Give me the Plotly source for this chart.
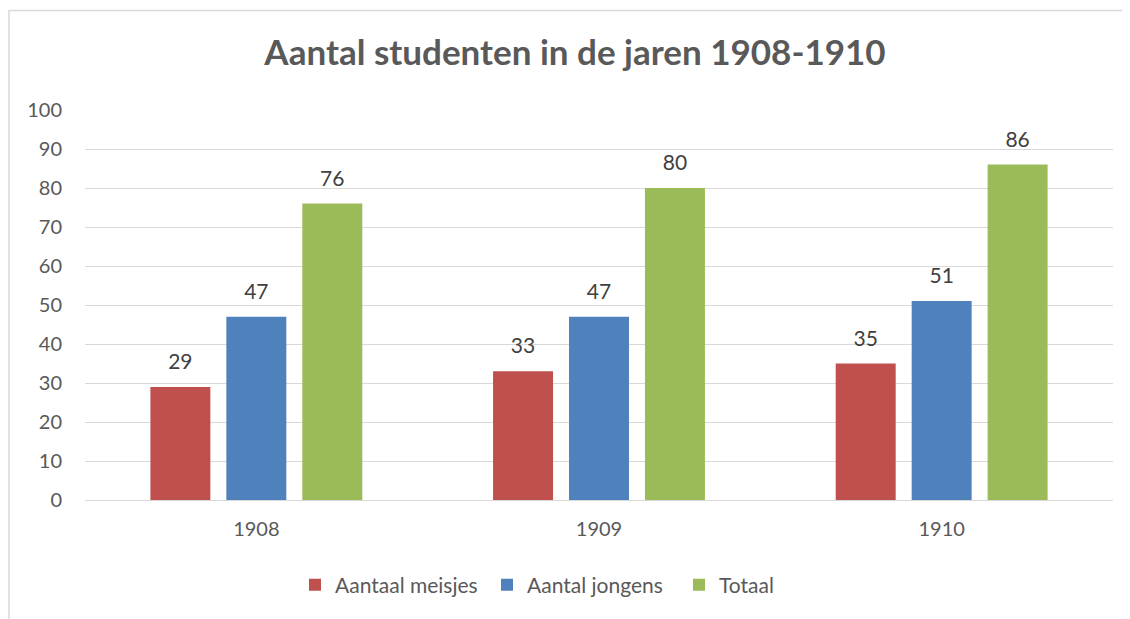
import plotly.graph_objects as go

years = ["1908", "1909", "1910"]
meisjes = [29, 33, 35]
jongens = [47, 47, 51]
totaal = [76, 80, 86]
series_names = ["Aantaal meisjes", "Aantal jongens", "Totaal"]
colors = ["#C0504D", "#4F81BD", "#9BBB59"]
y_ticks = list(range(0, 101, 10))

FONT = "Lato, 'Open Sans', sans-serif"

# page body has an 8px margin, so figure coords = page coords - 8
W, H = 1122, 611
L, T = 77, 102
PW, PH = 1028, 390

fig = go.Figure()
for name, vals, col in zip(series_names, [meisjes, jongens, totaal], colors):
    fig.add_trace(go.Bar(
        x=years, y=vals, name=name, marker=dict(color=col, line=dict(width=0)),
        text=[f"<span style='font-size:21px'>{v}</span><br> " for v in vals],
        textposition="outside", cliponaxis=False,
        textfont=dict(family=FONT, size=10, color="#404040"),
        hoverinfo="skip",
    ))

fig.update_layout(
    width=W, height=H,
    margin=dict(l=L, r=W - L - PW, t=T, b=H - T - PH),
    paper_bgcolor="white", plot_bgcolor="white",
    barmode="group", bargap=0.335, bargroupgap=0.2105,
    title=dict(text="<b>Aantal studenten in de jaren 1908-1910</b>",
               x=(575 - 8) / W, xanchor="center", y=1 - (53 - 8) / H, yanchor="middle",
               font=dict(family=FONT, size=35, color="#595959")),
    font=dict(family=FONT, color="#595959"),
    showlegend=True,
    legend=dict(orientation="h", x=(303 - 85 - 8) / PW, xanchor="left",
                y=-(585 - 500) / PH, yanchor="middle",
                font=dict(family=FONT, size=21, color="#595959"),
                entrywidth=147, entrywidthmode="pixels", traceorder="normal"),
    xaxis=dict(showgrid=False, showline=False, ticks="", ticklabelstandoff=15,
               tickfont=dict(family=FONT, size=20, color="#595959")),
    yaxis=dict(range=[0, 100], tickvals=y_ticks, showgrid=True, gridcolor="#D9D9D9",
               gridwidth=1, zeroline=True, zerolinecolor="#D9D9D9", zerolinewidth=1,
               showline=False, ticks="", ticklabelstandoff=22,
               tickfont=dict(family=FONT, size=20, color="#595959")),
    shapes=[dict(type="rect", xref="paper", yref="paper",
                 x0=(9 - 85) / PW, x1=(1200 - 85) / PW,
                 y0=(500 - 700) / PH, y1=(500 - 10.5) / PH,
                 line=dict(color="#D9D9D9", width=1.5), layer="below")],
)

fig.write_html("out.html")
